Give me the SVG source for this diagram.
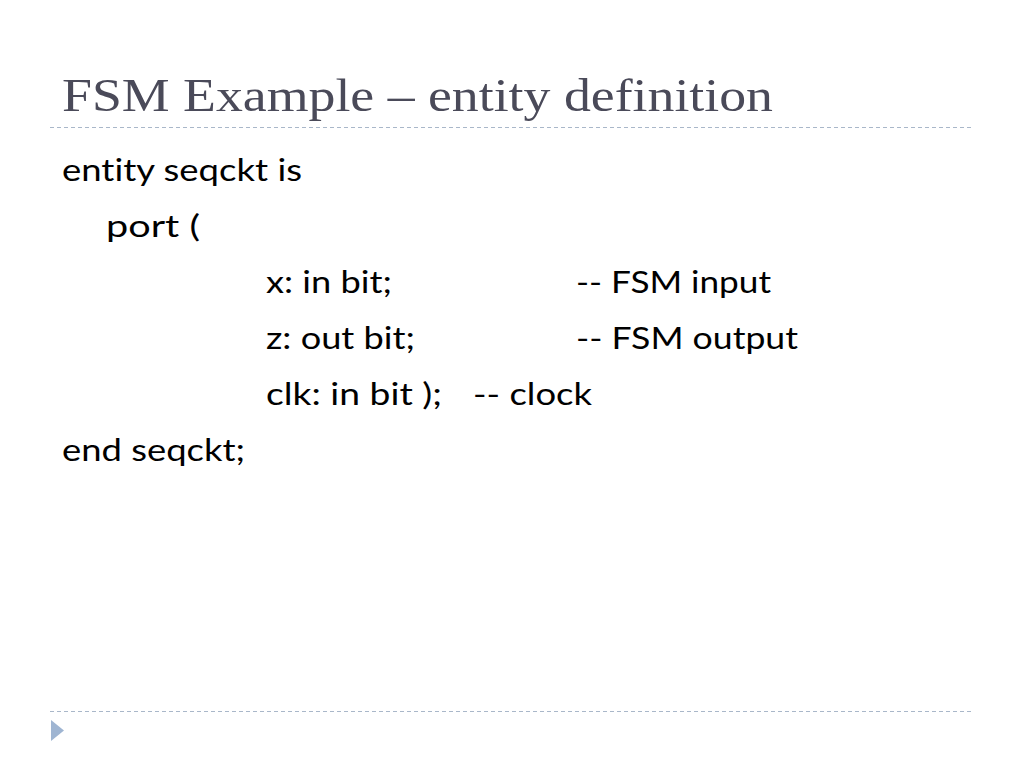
<svg xmlns="http://www.w3.org/2000/svg" width="1024" height="768" viewBox="0 0 1024 768">
<style>
.t{font-family:"Liberation Serif","DejaVu Serif",serif;font-size:47px;fill:#4a4a59}
.b{font-family:Lato,"Liberation Sans",sans-serif;font-size:31px;fill:#000;font-variant-ligatures:none;font-feature-settings:"liga" 0}
.d{stroke:#a9b7c9;stroke-width:1;stroke-dasharray:4 3;fill:none}
</style>
<rect width="1024" height="768" fill="#fff"/>
<text class="t" x="62" y="111" textLength="711" lengthAdjust="spacingAndGlyphs">FSM Example – entity definition</text>
<line class="d" x1="50" y1="127.5" x2="972" y2="127.5"/>
<line class="d" x1="50" y1="711.5" x2="972" y2="711.5"/>
<polygon points="51,720 64,730.5 51,741" fill="#9fb5d2"/>
<g class="b">
<text x="62" y="181" textLength="240" lengthAdjust="spacingAndGlyphs">entity seqckt is</text>
<text x="106" y="237" textLength="94" lengthAdjust="spacingAndGlyphs">port (</text>
<text x="266" y="293" textLength="126" lengthAdjust="spacingAndGlyphs">x: in bit;</text>
<text x="576" y="293" textLength="195" lengthAdjust="spacingAndGlyphs">-- FSM input</text>
<text x="266" y="349" textLength="149" lengthAdjust="spacingAndGlyphs">z: out bit;</text>
<text x="576" y="349" textLength="222" lengthAdjust="spacingAndGlyphs">-- FSM output</text>
<text x="266" y="405" textLength="176" lengthAdjust="spacingAndGlyphs">clk: in bit );</text>
<text x="473" y="405" textLength="119" lengthAdjust="spacingAndGlyphs">-- clock</text>
<text x="62" y="461" textLength="183" lengthAdjust="spacingAndGlyphs">end seqckt;</text>
</g>
</svg>
